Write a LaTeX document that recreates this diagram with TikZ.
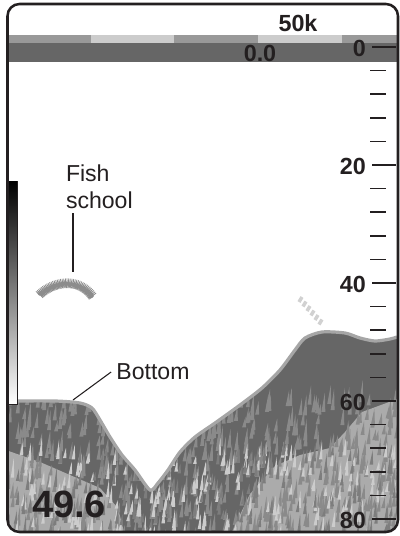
\documentclass[tikz,border=0pt]{standalone}
\usepackage{fontspec}
\setmainfont{Liberation Sans}
\usetikzlibrary{decorations.pathmorphing}
\definecolor{inkdark}{HTML}{231F20}
\definecolor{seadark}{HTML}{666666}
\definecolor{seamid}{HTML}{8A8A8A}
\definecolor{sealight}{HTML}{ABABAB}
\definecolor{rimgray}{HTML}{A6A6A6}
\definecolor{bandmid}{HTML}{999999}
\definecolor{bandlight}{HTML}{CCCCCC}
\begin{document}
\begin{tikzpicture}[x=0.75pt, y=-0.75pt,
  frame/.style={draw=inkdark, line width=1.9pt, rounded corners=9pt},
  tick/.style={draw=inkdark, line width=1.3pt},
  num/.style={font=\fontsize{17.5}{20}\selectfont\bfseries, text=inkdark, inner sep=0pt},
  lbl/.style={font=\fontsize{17.3}{20.3}\selectfont, text=inkdark, inner sep=0pt},
  leader/.style={draw=inkdark, line width=0.8pt},
  rim/.style={draw=rimgray, line width=2.4pt, line join=round},
  streak/.style={fill=#1},
  school/.style={draw=black!45, line width=0.5pt, decorate,
    decoration={zigzag, segment length=1.1pt, amplitude=3.6pt}}]
\useasboundingbox (0,0) rectangle (400,536);
\pgfmathsetseed{42}
% seabed, clipped to the frame and to its own top line
\begin{scope}
\clip[rounded corners=9pt] (7.5,4) rectangle (398,532);
\clip plot[smooth, tension=0.45] coordinates {(8,401) (55,401) (80,403) (92,408) (100,420)
  (110,437) (122,455) (135,470) (150,490) (158,483) (168,470) (180,452) (195,437)
  (215,423) (240,405) (262,388) (280,370) (295,350) (305,338) (322,332) (345,333)
  (360,338) (375,341) (390,339) (400,336)} -- (400,540) -- (0,540) -- (0,401) -- cycle;
\fill[seadark] (0,320) rectangle (400,540);
\fill[sealight] (0,448) -- (40,462) -- (70,475) -- (100,488) -- (118,508) -- (126,540) -- (0,540) -- cycle;
\fill[sealight] (228,540) -- (250,494) -- (275,466) -- (300,455) -- (330,448) -- (345,432)
  -- (362,412) -- (400,398) -- (400,540) -- cycle;
\foreach \i in {1,...,650}{
  \pgfmathsetmacro\sx{0+400*rnd}
  \pgfmathsetmacro\sy{400+140*rnd}
  \pgfmathsetmacro\sh{10+12*rnd}
  \fill[streak=seamid] (\sx,\sy) -- ++(3.5,-\sh) -- ++(0.5,\sh) -- cycle;
}
\foreach \i in {1,...,220}{
  \pgfmathsetmacro\sx{0+400*rnd}
  \pgfmathsetmacro\sy{455+85*rnd}
  \pgfmathsetmacro\sh{8+12*rnd}
  \fill[streak=white!80!black] (\sx,\sy) -- ++(3,-\sh) -- ++(0.5,\sh) -- cycle;
}
\foreach \i in {1,...,160}{
  \pgfmathsetmacro\sx{0+400*rnd}
  \pgfmathsetmacro\sy{455+85*rnd}
  \pgfmathsetmacro\sh{8+12*rnd}
  \fill[streak=seadark!85!white] (\sx,\sy) -- ++(3,-\sh) -- ++(0.5,\sh) -- cycle;
}
\end{scope}
\draw[rim] plot[smooth, tension=0.45] coordinates {(8,401) (55,401) (80,403) (92,408) (100,420)
  (110,437) (122,455) (135,470) (150,490) (158,483) (168,470) (180,452) (195,437)
  (215,423) (240,405) (262,388) (280,370) (295,350) (305,338) (322,332) (345,333)
  (360,338) (375,341) (390,339) (397,337)};
% faint echo above the rise
\foreach \k in {0,...,5}
  \draw[black!18, line width=2.6pt] (299+4*\k,302+4.5*\k) -- ++(3,-5);
% fish school
\draw[black!55, line width=1.2pt] (39,295) .. controls (55,280) and (80,278) .. (93,297);
\draw[school] (39,295) .. controls (55,280) and (80,278) .. (93,297);
\coordinate (schooltop) at (73,272);
% colour scale on the left
\shade[top color=black, bottom color=white] (8,181) rectangle (17,404);
\draw[inkdark, line width=0.7pt] (17,181) -- (17,404) -- (8,404);
% top bands
\fill[bandmid] (7,35) rectangle (91,43);
\fill[bandlight] (91,35) rectangle (174,43);
\fill[bandmid] (174,35) rectangle (258,43);
\fill[bandlight] (258,35) rectangle (342,43);
\fill[bandmid] (342,35) rectangle (398,43);
\fill[seadark] (7,43) rectangle (398,62);
\node[num] (freq) at (298,23) {50k};
\node[num] (shift) at (260,53) {0.0};
% depth scale
\foreach \i in {0,...,20}{
  \pgfmathsetmacro\ty{47+23.6*\i}
  \ifnum\numexpr\i-5*(\i/5)\relax=0
    \draw[tick] (372,\ty) -- (396,\ty);
  \else
    \draw[tick] (370,\ty) -- (386,\ty);
  \fi
}
\node[num, anchor=east] (d0) at (366,48) {0};
\node[num, anchor=east] (d20) at (366,166) {20};
\node[num, anchor=east] (d40) at (366,284) {40};
\node[num, anchor=east] (d60) at (366,402) {60};
\node[num, anchor=east] (d80) at (366,520) {80};
% labels
\node[lbl, align=left, anchor=north west, outer sep=3pt] (fishlbl) at (62,161) {Fish\\school};
\draw[leader] (schooltop |- fishlbl.south) -- (schooltop);
\node[lbl, outer sep=4pt] (bottomlbl) at (153,372) {Bottom};
\coordinate (bottomhit) at (73,400);
\draw[leader] (bottomlbl.west) -- (bottomhit);
\node[num, font=\fontsize{28.5}{32}\selectfont\bfseries] (depth) at (69,504) {49.6};
\draw[frame] (7.5,4) rectangle (398,532);
\end{tikzpicture}
\end{document}
